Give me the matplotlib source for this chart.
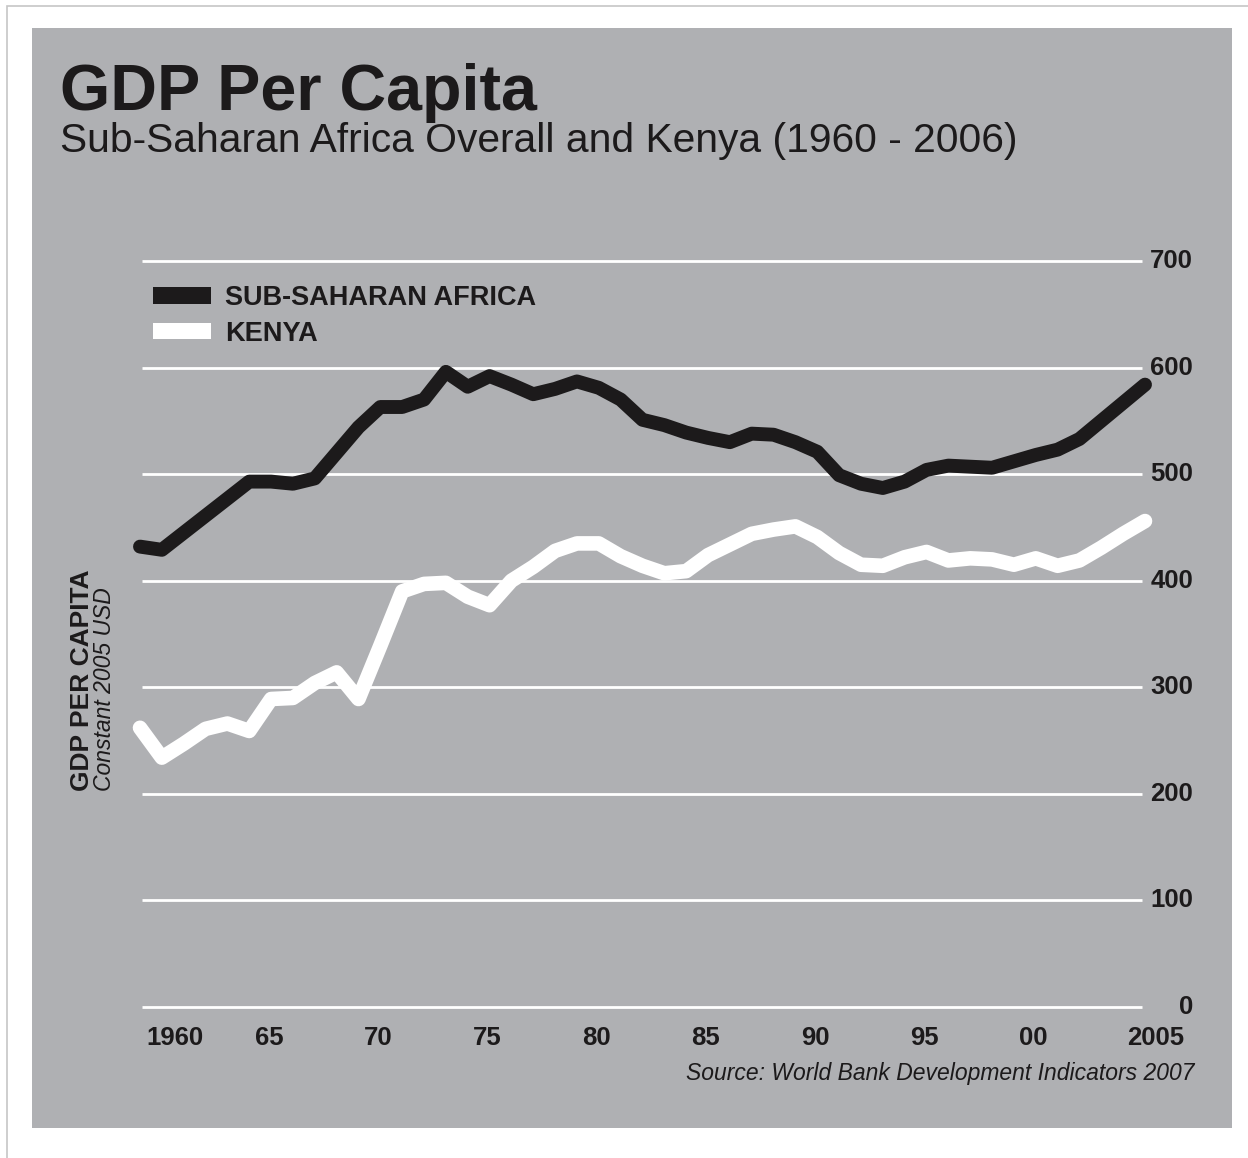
import numpy as np
import matplotlib
matplotlib.use('Agg')
import matplotlib.pyplot as plt
from matplotlib.patches import Patch, Rectangle

# GDP per capita, constant 2005 USD
years = np.arange(1960, 2007)
ssa_gdp = [432, 429, 445, 461, 477, 493, 493, 491, 496, 520,
           544, 563, 563, 570, 596, 582, 592, 584, 575, 580,
           587, 581, 570, 551, 546, 539, 534, 530, 538, 537,
           530, 521, 499, 491, 487, 493, 504, 508, 507, 506,
           512, 518, 523, 533, 550, 567, 584]
kenya_gdp = [262, 234, 247, 261, 266, 259, 289, 290, 304, 314,
             289, 339, 390, 397, 398, 385, 377, 400, 413, 428,
             435, 435, 423, 414, 407, 409, 424, 434, 444, 448,
             451, 441, 426, 415, 414, 422, 427, 419, 421, 420,
             415, 421, 414, 419, 431, 444, 456]
series_names = ['SUB-SAHARAN AFRICA', 'KENYA']

y_ticks = [0, 100, 200, 300, 400, 500, 600, 700]
x_tick_years = [1960, 1965, 1970, 1975, 1980, 1985, 1990, 1995, 2000, 2005]
x_tick_labels = ['1960', '65', '70', '75', '80', '85', '90', '95', '00', '2005']

W, H = 1248, 1158
PANEL = '#afb0b3'
INK = '#1c1a1b'
FONT = 'Liberation Sans'


def fx(x):
    return x / W


def fy(y):
    return 1 - y / H


plt.rcParams['font.family'] = [FONT, 'DejaVu Sans']

fig = plt.figure(figsize=(W / 100, H / 100), dpi=100)
fig.patch.set_facecolor('white')

# thin page frame and the grey card behind everything
fig.add_artist(Rectangle((fx(7), -0.1), 1.2, fy(6) + 0.1, transform=fig.transFigure,
                         fill=False, edgecolor='#c6c6c6', lw=1.2, zorder=0))
fig.add_artist(Rectangle((fx(32), fy(1128)), 1200 / W, 1100 / H, transform=fig.transFigure,
                         facecolor=PANEL, edgecolor='none', zorder=0))

# plot area: 1960 sits at px 140, 2006 at px 1145
px_per_year = (1145 - 140) / 46
x0 = 1960 + (142 - 140) / px_per_year
x1 = 1960 + (1142 - 140) / px_per_year
ax = fig.add_axes([fx(142), fy(1007), (1142 - 142) / W, (1007 - 261) / H])
ax.set_facecolor('none')
for s in ax.spines.values():
    s.set_visible(False)

ax.hlines(y_ticks, x0, x1, colors='white', lw=2.0, clip_on=False, zorder=1)

ax.plot(years, ssa_gdp, color=INK, lw=10, solid_capstyle='round',
        solid_joinstyle='round', clip_on=False, zorder=3)
ax.plot(years, kenya_gdp, color='white', lw=10.5, solid_capstyle='round',
        solid_joinstyle='round', clip_on=False, zorder=3)

# y labels on the right
ax.yaxis.tick_right()
ax.set_yticks(y_ticks)
ax.set_yticklabels([str(v) for v in y_ticks])
ax.tick_params(axis='y', length=0, pad=51 * 0.72)
for t in ax.get_yticklabels():
    t.set_fontsize(18.5)
    t.set_fontweight('bold')
    t.set_color(INK)
    t.set_horizontalalignment('right')
    t.set_verticalalignment('center')

ax.set_xticks([])
ax.set_xlim(x0, x1)
ax.set_ylim(0, 700)

# year labels sit a little right of their data point
label_pos = np.array(x_tick_years, dtype=float) + 0.9
label_pos[0] += 0.7
label_pos[-1] += 0.6
for pos, lab in zip(label_pos, x_tick_labels):
    ax.text(pos, -0.026, lab, transform=ax.get_xaxis_transform(),
            ha='center', va='top', fontsize=18.5, fontweight='bold', color=INK)

handles = [Patch(facecolor=INK, edgecolor='none'),
           Patch(facecolor='white', edgecolor='none')]
leg = ax.legend(handles, series_names, loc='upper left',
                bbox_to_anchor=(fx(153), fy(285)), bbox_transform=fig.transFigure,
                frameon=False, borderpad=0, borderaxespad=0,
                handlelength=2.15, handleheight=0.55, handletextpad=0.52,
                labelspacing=0.36, prop={'family': FONT, 'weight': 'bold', 'size': 19.5})
for t in leg.get_texts():
    t.set_color(INK)

# titles
fig.text(fx(60), fy(110), 'GDP Per Capita', fontsize=46.5, fontweight='bold',
         color=INK, va='baseline', ha='left')
fig.text(fx(60), fy(152), 'Sub-Saharan Africa Overall and Kenya (1960 - 2006)',
         fontsize=29.3, color=INK, va='baseline', ha='left')

# axis title, rotated
fig.text(fx(94), fy(791), 'GDP PER CAPITA', rotation=90, fontsize=19,
         fontweight='bold', color=INK, ha='right', va='bottom')
fig.text(fx(116), fy(791), 'Constant 2005 USD', rotation=90, fontsize=16.5,
         fontstyle='italic', color=INK, ha='right', va='bottom')

fig.text(fx(1194), fy(1080), 'Source: World Bank Development Indicators 2007',
         fontsize=16.5, fontstyle='italic', color=INK, ha='right', va='baseline')

fig.savefig('out.png', dpi=100, facecolor='white')
